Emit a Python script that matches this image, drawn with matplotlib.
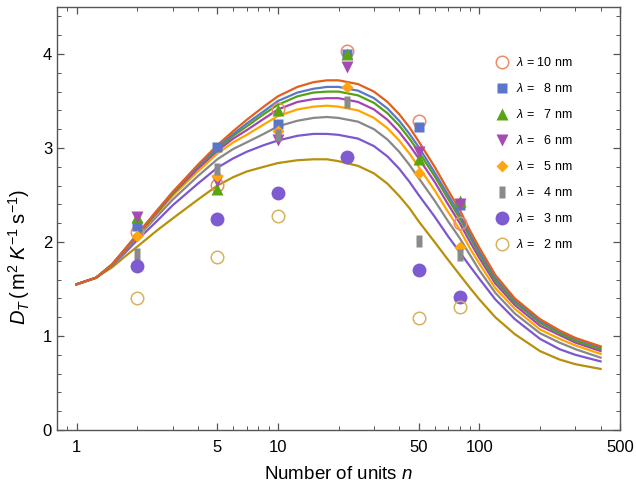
import matplotlib
matplotlib.use("Agg")
import matplotlib.pyplot as plt
import numpy as np
from matplotlib.ticker import FixedLocator, NullFormatter, MultipleLocator

plt.rcParams['font.family'] = ['Liberation Sans', 'DejaVu Sans']
plt.rcParams['mathtext.fontset'] = 'custom'
plt.rcParams['mathtext.rm'] = 'Liberation Sans'
plt.rcParams['mathtext.it'] = 'Liberation Sans:italic'

# measured points (n = number of units)
n_pts = [2, 5, 10, 22, 50, 80]
pts_10 = [2.11, 2.61, 3.41, 4.03, 3.29, 2.20]
pts_8 = [2.17, 3.01, 3.26, 4.00, 3.22, 2.39]
pts_7 = [2.27, 2.56, 3.40, 4.00, 2.88, 2.44]
pts_6 = [2.27, 2.65, 3.09, 3.86, 2.96, 2.40]
pts_5 = [2.06, 2.70, 3.18, 3.65, 2.73, 1.95]
pts_4 = [1.87, 2.78, 3.14, 3.49, 2.01, 1.86]
pts_3 = [1.74, 2.24, 2.52, 2.90, 1.70, 1.41]
pts_2 = [1.40, 1.84, 2.28, np.nan, 1.19, 1.31]

# model curves
n_curve = [1, 1.25, 1.5, 1.75, 2, 2.5, 3, 4, 5, 6, 7, 8.5, 10, 12.5, 15, 17.5, 20, 25, 30, 35,
           40, 45, 50, 60, 70, 80, 90, 100, 120, 150, 200, 250, 300, 400]
fit_10 = [1.55, 1.62, 1.76, 1.93, 2.08, 2.33, 2.53, 2.82, 3.03, 3.18, 3.30, 3.44, 3.55, 3.65, 3.70, 3.72, 3.72,
          3.68, 3.60, 3.49, 3.36, 3.22, 3.07, 2.80, 2.55, 2.34, 2.12, 1.94, 1.65, 1.40, 1.18, 1.06, 0.98, 0.89]
fit_8 = [1.55, 1.62, 1.76, 1.93, 2.08, 2.33, 2.53, 2.81, 3.01, 3.15, 3.26, 3.39, 3.50, 3.59, 3.63, 3.65, 3.65,
         3.61, 3.53, 3.42, 3.29, 3.15, 3.01, 2.74, 2.50, 2.29, 2.08, 1.90, 1.62, 1.38, 1.16, 1.05, 0.97, 0.88]
fit_7 = [1.55, 1.62, 1.76, 1.93, 2.07, 2.32, 2.52, 2.80, 2.99, 3.13, 3.23, 3.36, 3.46, 3.55, 3.59, 3.60, 3.60,
         3.56, 3.48, 3.37, 3.24, 3.10, 2.96, 2.70, 2.46, 2.25, 2.05, 1.87, 1.59, 1.36, 1.14, 1.03, 0.95, 0.86]
fit_6 = [1.55, 1.62, 1.76, 1.92, 2.07, 2.31, 2.51, 2.78, 2.97, 3.10, 3.19, 3.31, 3.41, 3.49, 3.52, 3.53, 3.53,
         3.49, 3.41, 3.30, 3.17, 3.03, 2.89, 2.64, 2.40, 2.20, 2.00, 1.83, 1.56, 1.33, 1.11, 1.01, 0.93, 0.84]
fit_5 = [1.55, 1.62, 1.76, 1.92, 2.06, 2.30, 2.49, 2.75, 2.94, 3.06, 3.14, 3.25, 3.34, 3.41, 3.44, 3.45, 3.44,
         3.40, 3.32, 3.21, 3.08, 2.94, 2.80, 2.55, 2.32, 2.13, 1.93, 1.77, 1.51, 1.29, 1.07, 0.97, 0.90, 0.81]
fit_4 = [1.55, 1.62, 1.75, 1.91, 2.05, 2.27, 2.45, 2.70, 2.88, 2.99, 3.06, 3.15, 3.23, 3.29, 3.32, 3.33, 3.32,
         3.28, 3.20, 3.09, 2.96, 2.82, 2.68, 2.44, 2.22, 2.04, 1.86, 1.70, 1.46, 1.24, 1.03, 0.93, 0.86, 0.77]
fit_3 = [1.55, 1.62, 1.75, 1.89, 2.02, 2.22, 2.39, 2.62, 2.79, 2.89, 2.96, 3.03, 3.08, 3.13, 3.15, 3.15, 3.14,
         3.10, 3.02, 2.91, 2.78, 2.64, 2.50, 2.27, 2.06, 1.89, 1.74, 1.61, 1.39, 1.18, 0.97, 0.86, 0.80, 0.73]
fit_2 = [1.55, 1.62, 1.73, 1.85, 1.95, 2.12, 2.25, 2.45, 2.60, 2.69, 2.75, 2.80, 2.84, 2.87, 2.88, 2.88, 2.86,
         2.81, 2.73, 2.62, 2.49, 2.36, 2.22, 2.00, 1.81, 1.65, 1.51, 1.39, 1.20, 1.02, 0.84, 0.75, 0.70, 0.65]

labels = [r"$\lambda$ = 10 nm", r"$\lambda$ =   8 nm", r"$\lambda$ =   7 nm", r"$\lambda$ =   6 nm",
          r"$\lambda$ =   5 nm", r"$\lambda$ =   4 nm", r"$\lambda$ =   3 nm", r"$\lambda$ =   2 nm"]
line_colors = ['#E2601C', '#5A78C8', '#55A014', '#A244B4', '#FFA500', '#888888', '#7B58CF', '#B8900B']
mark_colors = ['#EE8A66', '#5B76C8', '#5AA414', '#A64AB6', '#FFA510', '#8A8A8A', '#7E5BD0', '#D6B45E']

rect = [(-0.35, -0.65), (0.35, -0.65), (0.35, 0.65), (-0.35, 0.65), (-0.35, -0.65)]
markers = ['o', 's', '^', 'v', 'D', rect, 'o', 'o']
msizes = [9, 6.5, 8, 8, 6.5, 9, 10, 9]
filled = [False, True, True, True, True, True, True, False]

fits = [fit_10, fit_8, fit_7, fit_6, fit_5, fit_4, fit_3, fit_2]
pts = [pts_10, pts_8, pts_7, pts_6, pts_5, pts_4, pts_3, pts_2]

fig = plt.figure(figsize=(6.36, 4.9), dpi=100)
ax = fig.add_axes([0.0896, 0.1224, 0.8854, 0.8633])

# curves, 2 nm at the back
for i in range(7, -1, -1):
    ax.plot(n_curve, fits[i], color=line_colors[i], lw=1.6, zorder=2)

for i in range(8):
    if filled[i]:
        ax.plot(n_pts, pts[i], linestyle='none', marker=markers[i], ms=msizes[i],
                mfc=mark_colors[i], mec='none', label=labels[i], zorder=3)
    else:
        ax.plot(n_pts, pts[i], linestyle='none', marker=markers[i], ms=msizes[i],
                mfc='none', mec=mark_colors[i], mew=1.1, label=labels[i], zorder=3)

ax.set_xscale('log')
ax.set_xlim(0.8, 500)
ax.set_ylim(0, 4.5)

ax.xaxis.set_major_locator(FixedLocator([1, 5, 10, 50, 100, 500]))
ax.set_xticklabels(['1', '5', '10', '50', '100', '500'])
minors = [0.9, 2, 3, 4, 6, 7, 8, 9, 20, 30, 40, 60, 70, 80, 90, 200, 300, 400]
ax.xaxis.set_minor_locator(FixedLocator(minors))
ax.xaxis.set_minor_formatter(NullFormatter())
ax.yaxis.set_major_locator(MultipleLocator(1))
ax.yaxis.set_minor_locator(MultipleLocator(0.2))

ax.tick_params(which='both', direction='in', top=True, right=True, labelsize=12, color='#555555')
ax.tick_params(which='major', length=5, width=0.9)
ax.tick_params(which='minor', length=3, width=0.7)
ax.tick_params(axis='x', pad=7)
for s in ax.spines.values():
    s.set_color('#555555')
    s.set_linewidth(1.0)

ax.set_xlabel(r"Number of units $n$", fontsize=13.5, labelpad=8)
ax.set_ylabel(r"$D_T\,(\,\mathrm{m}^2\;K^{-1}\;\mathrm{s}^{-1})$", fontsize=14.5)
ax.yaxis.set_label_coords(-0.045, 0.41)

ax.legend(loc='upper right', bbox_to_anchor=(0.924, 0.896), frameon=False, fontsize=9,
          handletextpad=0.45, labelspacing=1.04, handlelength=1.2, borderaxespad=0)

fig.savefig("out.png", dpi=100)
